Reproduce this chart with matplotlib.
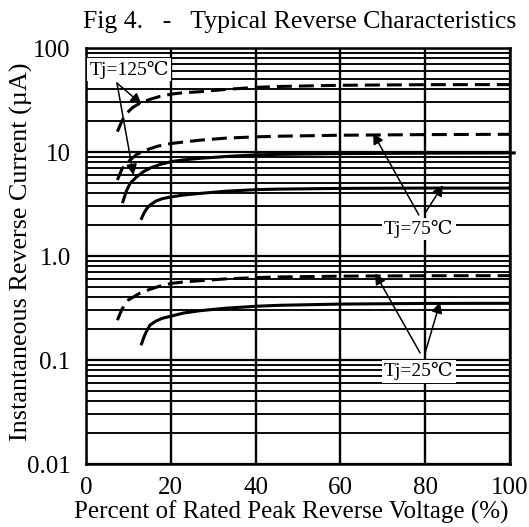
import matplotlib
matplotlib.use("Agg")
import matplotlib.pyplot as plt
from matplotlib.ticker import LogLocator, FixedLocator, NullFormatter

plt.rcParams['font.family'] = ['Liberation Serif', 'DejaVu Serif']

# ---- data ----
x_125_dash = [7.4, 8.5, 9.6, 11, 12.7, 15, 17.5, 20.2, 23, 26.9, 33, 40.3, 45.8, 60, 80, 100]
y_125_dash = [15.7, 20, 23.6, 26.8, 29.4, 32, 34.3, 36.1, 37.2, 38.0, 40.0, 41.9, 42.7, 43.8, 44.4, 44.5]

x_75_dash = [7.4, 8.5, 10.4, 12, 14.3, 17, 20.2, 26.9, 33, 40.3, 45.8, 60, 80, 100]
y_75_dash = [5.38, 6.9, 8.4, 9.5, 10.5, 11.4, 12.1, 13.0, 13.6, 14.0, 14.2, 14.5, 14.7, 14.8]

x_125_solid = [8.7, 9.5, 10.4, 12.0, 13.5, 15.1, 17.5, 20.2, 23, 26.9, 33, 40.3, 45.8, 60, 80, 100, 101]
y_125_solid = [3.33, 4.2, 5.0, 5.8, 6.45, 7.0, 7.6, 8.1, 8.4, 8.7, 9.05, 9.4, 9.5, 9.65, 9.75, 9.8, 9.8]

x_75_solid = [13.1, 13.7, 14.3, 15.1, 16.5, 18, 20.2, 23, 26.9, 33, 40.3, 45.8, 60, 80, 100]
y_75_solid = [2.30, 2.6, 2.85, 3.09, 3.38, 3.56, 3.71, 3.86, 4.0, 4.2, 4.35, 4.4, 4.47, 4.5, 4.5]

x_25_dash = [7.4, 8.5, 10.0, 12.5, 15.1, 17.5, 20.2, 23, 26.9, 33, 40.3, 44.2, 60, 80, 100]
y_25_dash = [0.242, 0.31, 0.378, 0.435, 0.479, 0.515, 0.546, 0.563, 0.579, 0.603, 0.62, 0.628, 0.64, 0.646, 0.647]

x_25_solid = [13.1, 13.7, 14.3, 15.1, 16.5, 18, 20.2, 23, 26.9, 33, 40.3, 45.8, 60, 80, 100]
y_25_solid = [0.143, 0.168, 0.19, 0.217, 0.237, 0.252, 0.265, 0.283, 0.298, 0.315, 0.329, 0.336, 0.345, 0.35, 0.351]

x_ticks = [0, 20, 40, 60, 80, 100]
y_ticks = [0.01, 0.1, 1.0, 10, 100]
y_tick_labels = ["0.01", "0.1", "1.0", "10", "100"]

title = "Fig 4.   -   Typical Reverse Characteristics"
xlabel = "Percent of Rated Peak Reverse Voltage (%)"
ylabel = "Instantaneous Reverse Current (\u00b5A)"

# ---- figure ----
fig = plt.figure(figsize=(5.29, 5.27), dpi=100)
ax = fig.add_axes([0.1626, 0.1195, 0.8015, 0.7894])
ax.set_xlim(0, 100)
ax.set_yscale('log')
ax.set_ylim(0.01, 100)

ax.xaxis.set_major_locator(FixedLocator(x_ticks))
ax.set_xticklabels([str(v) for v in x_ticks])
ax.yaxis.set_major_locator(FixedLocator(y_ticks))
ax.set_yticklabels(y_tick_labels)
ax.yaxis.set_minor_locator(LogLocator(base=10, subs=range(2, 10)))
ax.yaxis.set_minor_formatter(NullFormatter())

ax.grid(True, which='major', axis='x', color='black', lw=1.7)
ax.grid(True, which='major', axis='y', color='black', lw=1.6)
ax.grid(True, which='minor', axis='y', color='black', lw=1.35)
ax.tick_params(which='both', length=0, labelsize=18)
ax.tick_params(axis='x', pad=9)
ax.tick_params(axis='y', pad=11)
for s in ax.spines.values():
    s.set_linewidth(1.8)

lw = 2.2
dash = (4.9, 2.3)
ax.plot(x_125_dash, y_125_dash, color='black', lw=lw, dashes=dash, zorder=3)
ax.plot(x_75_dash, y_75_dash, color='black', lw=lw, dashes=dash, zorder=3)
ax.plot(x_25_dash, y_25_dash, color='black', lw=lw, dashes=dash, zorder=3)
ax.plot(x_125_solid, y_125_solid, color='black', lw=lw, zorder=3, clip_on=False)
ax.plot(x_75_solid, y_75_solid, color='black', lw=lw, zorder=3)
ax.plot(x_25_solid, y_25_solid, color='black', lw=lw, zorder=3)

ax.text(0.5035, 1.048, title, transform=ax.transAxes, fontsize=18.5,
        ha='center', va='baseline')
ax.set_xlabel(xlabel, fontsize=18)
ax.xaxis.set_label_coords(0.4835, -0.089)
ax.set_ylabel(ylabel, fontsize=18.8)
ax.yaxis.set_label_coords(-0.125, 0.51)

box = dict(boxstyle='square,pad=0.12', fc='white', ec='none')
aprops = dict(arrowstyle='-|>', color='black', lw=1.1, mutation_scale=16, shrinkA=0, shrinkB=0)

ax.text(10.2, 62, "Tj=125\u2103", fontsize=14, ha='center', va='center', bbox=box, zorder=5)
ax.annotate("", xy=(13.1, 28.9), xytext=(7.3, 46), arrowprops=aprops, zorder=6)
ax.annotate("", xy=(11.2, 6.0), xytext=(7.3, 46), arrowprops=aprops, zorder=6)

ax.text(78.5, 1.82, "Tj=75\u2103", fontsize=14, ha='center', va='center', bbox=box, zorder=5)
ax.annotate("", xy=(67.7, 15.2), xytext=(78.5, 2.48), arrowprops=aprops, zorder=6)
ax.annotate("", xy=(84.2, 4.8), xytext=(80, 2.6), arrowprops=aprops, zorder=6)

ax.text(78.5, 0.078, "Tj=25\u2103", fontsize=14, ha='center', va='center', bbox=box, zorder=5)
ax.annotate("", xy=(68.2, 0.68), xytext=(78.8, 0.117), arrowprops=aprops, zorder=6)
ax.annotate("", xy=(83.5, 0.36), xytext=(80, 0.118), arrowprops=aprops, zorder=6)

fig.savefig("out.png", dpi=100)
